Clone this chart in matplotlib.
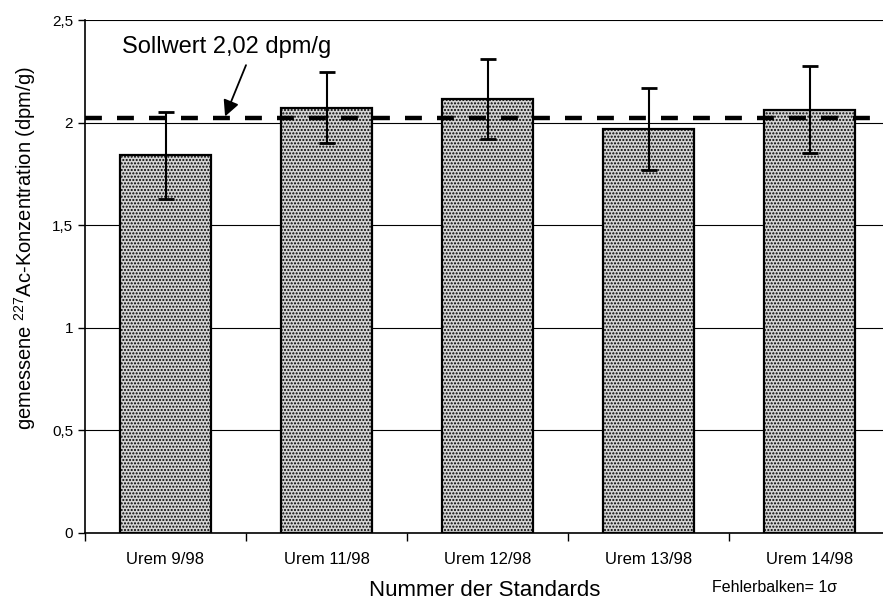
import numpy as np
import matplotlib.pyplot as plt

plt.rcParams['font.family'] = ['Liberation Sans', 'DejaVu Sans']
plt.rcParams['mathtext.default'] = 'regular'

standards = ["Urem 9/98", "Urem 11/98", "Urem 12/98", "Urem 13/98", "Urem 14/98"]
konz = [1.84, 2.072, 2.115, 1.967, 2.063]
fehler = [0.21, 0.173, 0.195, 0.20, 0.213]
sollwert = 2.02
yticks = [0, 0.5, 1, 1.5, 2, 2.5]
yticklabels = ["0", "0,5", "1", "1,5", "2", "2,5"]

plt.rcParams['hatch.color'] = '#6a6a6a'
plt.rcParams['hatch.linewidth'] = 1.0

fig = plt.figure(figsize=(8.83, 6.02), dpi=100)
# rechter Rand der Achse liegt knapp ausserhalb des Bildes
ax = fig.add_axes([85/883, 1-533/602, 805/883, 513/602])

x = np.arange(len(standards))
ax.bar(x, konz, width=0.56, color='#d4d4d4', edgecolor='black', linewidth=1.6,
       hatch='.....', zorder=2)
ax.errorbar(x, konz, yerr=fehler, fmt='none', ecolor='black', elinewidth=1.5,
            capsize=6, capthick=2, zorder=4)

# Sollwert als dicke gestrichelte Linie
ax.axhline(sollwert, color='black', linewidth=3.2, dashes=(3.8, 3.4), zorder=3)
ax.text(-0.27, 2.37, "Sollwert 2,02 dpm/g", fontsize=17, ha='left', va='center')
ax.annotate("", xy=(0.37, sollwert + 0.01), xytext=(0.5, 2.28),
            arrowprops=dict(arrowstyle='-|>', color='black', lw=1.3,
                            mutation_scale=24, shrinkA=0, shrinkB=0))

ax.set_xlim(-0.5, len(standards) - 0.5)
ax.set_ylim(0, 2.5)
ax.set_yticks(yticks)
ax.set_yticklabels(yticklabels, fontsize=11)
ax.yaxis.grid(True, color='black', linewidth=0.8)
ax.set_axisbelow(True)

ax.set_xticks(x)
ax.set_xticklabels(standards, fontsize=12)
ax.set_xticks(np.arange(len(standards) + 1) - 0.5, minor=True)
ax.tick_params(axis='x', which='major', length=0, pad=14)
ax.tick_params(axis='x', which='minor', length=6, direction='out', width=1)
ax.tick_params(axis='y', length=5, direction='out', width=1)

for side in ['top', 'right']:
    ax.spines[side].set_visible(False)
ax.spines['left'].set_linewidth(1.2)
ax.spines['bottom'].set_linewidth(1.2)

ax.set_ylabel(r"gemessene $^{227}$Ac-Konzentration (dpm/g)", fontsize=14.5, va='center')
ax.yaxis.set_label_coords(-60/805, (533-248)/513)
ax.set_xlabel("Nummer der Standards", fontsize=16, va='center')
ax.xaxis.set_label_coords(400/805, -57/513)
fig.text(712/883, 1-588/602, "Fehlerbalken= 1σ", fontsize=11.5, va='center')

fig.savefig("out.png", dpi=100)
